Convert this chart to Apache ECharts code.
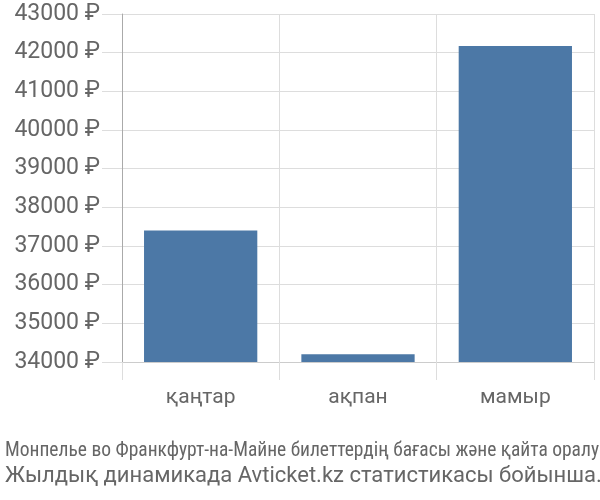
<!DOCTYPE html>
<html>
<head>
<meta charset="utf-8">
<script src="https://cdn.jsdelivr.net/npm/echarts@6/dist/echarts.min.js"></script>
<style>
  html, body { margin: 0; padding: 0; background: #fff; }
  #chart { width: 600px; height: 500px; }
</style>
</head>
<body>
<div id="chart"></div>
<script>
// данные
const months = ['қаңтар', 'ақпан', 'мамыр'];
const prices = [37400, 34200, 42170];
const footer1 = 'Монпелье во Франкфурт-на-Майне билеттердің бағасы және қайта оралу';
const footer2 = 'Жылдық динамикада Avticket.kz статистикасы бойынша.';

const chart = echarts.init(document.getElementById('chart'));

const option = {
	animation: false,
	grid: {
		left: 122,
		right: 6,
		top: 14,
		bottom: 138
	},
	title: [
		{
			text: footer1,
			left: 0,
			top: 436,
			textStyle: {
				fontFamily: 'Liberation Sans Narrow, Roboto Condensed, sans-serif',
				fontWeight: 'normal',
				fontSize: 19.5,
				color: '#666'
			}
		},
		{
			text: footer2,
			left: 0,
			top: 460,
			textStyle: {
				fontFamily: 'Roboto, sans-serif',
				fontWeight: 'normal',
				fontSize: 22,
				color: '#666'
			}
		}
	],
	xAxis: {
		type: 'category',
		data: months,
		axisLine: {lineStyle: {color: '#ccc'}},
		axisTick: {show: true, length: 18, lineStyle: {color: '#ddd'}},
		splitLine: {show: true, lineStyle: {color: '#ddd'}},
		axisLabel: {
			margin: 25,
			fontSize: 21,
			color: '#666',
			fontFamily: 'Roboto, sans-serif'
		}
	},
	yAxis: {
		type: 'value',
		min: 34000,
		max: 43000,
		interval: 1000,
		axisLine: {show: true, lineStyle: {color: '#aaa'}},
		axisTick: {show: true, length: 20, lineStyle: {color: '#ddd'}},
		splitLine: {lineStyle: {color: '#ddd'}},
		axisLabel: {
			margin: 22,
			fontSize: 23,
			color: '#666',
			fontFamily: 'Roboto, sans-serif',
			formatter: v => v + ' ₽'
		}
	},
	series: [
		{
			type: 'bar',
			data: prices,
			barWidth: '72%',
			itemStyle: {color: '#4c78a6'}
		}
	]
};
chart.setOption(option);
</script>
</body>
</html>
